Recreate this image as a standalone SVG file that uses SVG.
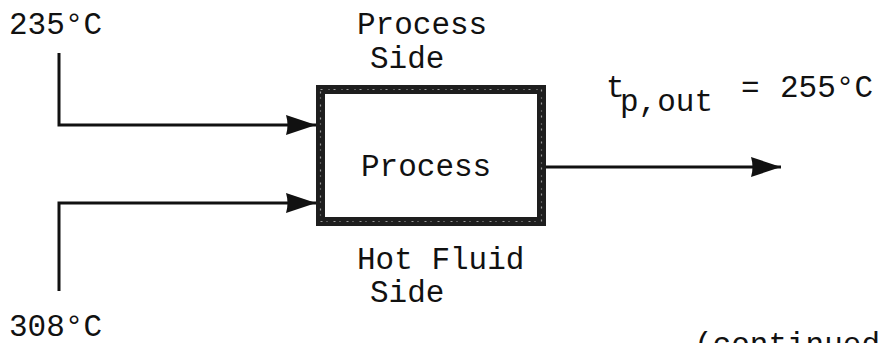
<svg xmlns="http://www.w3.org/2000/svg" width="884" height="343" viewBox="0 0 884 343">
<defs>
<style>
text{font-family:"Liberation Mono","Courier New",monospace;font-size:31px;fill:#111}
.ln{fill:none;stroke:#111;stroke-width:3;stroke-linejoin:miter}
.speck{fill:none;stroke:#9a9a9a;stroke-width:1.2;stroke-dasharray:2 6 1 4}
</style>
<marker id="arr" viewBox="0 0 30 20" refX="30" refY="10" markerWidth="30" markerHeight="20" markerUnits="userSpaceOnUse" orient="auto">
<path d="M0,0 L30,10 L0,20 Q3,10 0,0 Z" fill="#111"/>
</marker>
</defs>
<rect width="884" height="343" fill="#fff"/>
<g id="connectors">
<path class="ln" d="M59,53 V125 H316" marker-end="url(#arr)"/>
<path class="ln" d="M59,291 V203 H316" marker-end="url(#arr)"/>
<path class="ln" d="M546,167 H781" marker-end="url(#arr)"/>
</g>
<g id="process">
<rect x="320.5" y="89.5" width="221" height="132" fill="#fff" stroke="#1e1e1e" stroke-width="9"/>
<rect class="speck" x="320.5" y="89.5" width="221" height="132"/>
<text x="361" y="176">Process</text>
</g>
<g id="labels">
<text x="9" y="34">235°C</text>
<text x="9" y="336">308°C</text>
<text x="357" y="34">Process</text>
<text x="370" y="68">Side</text>
<text x="357" y="269">Hot Fluid</text>
<text x="370" y="302">Side</text>
<text x="606" y="97">t<tspan x="620" y="111">p,out</tspan><tspan x="741" y="97">=</tspan><tspan x="780" y="97">255°C</tspan></text>
<text x="694" y="354">(continued)</text>
</g>
</svg>
